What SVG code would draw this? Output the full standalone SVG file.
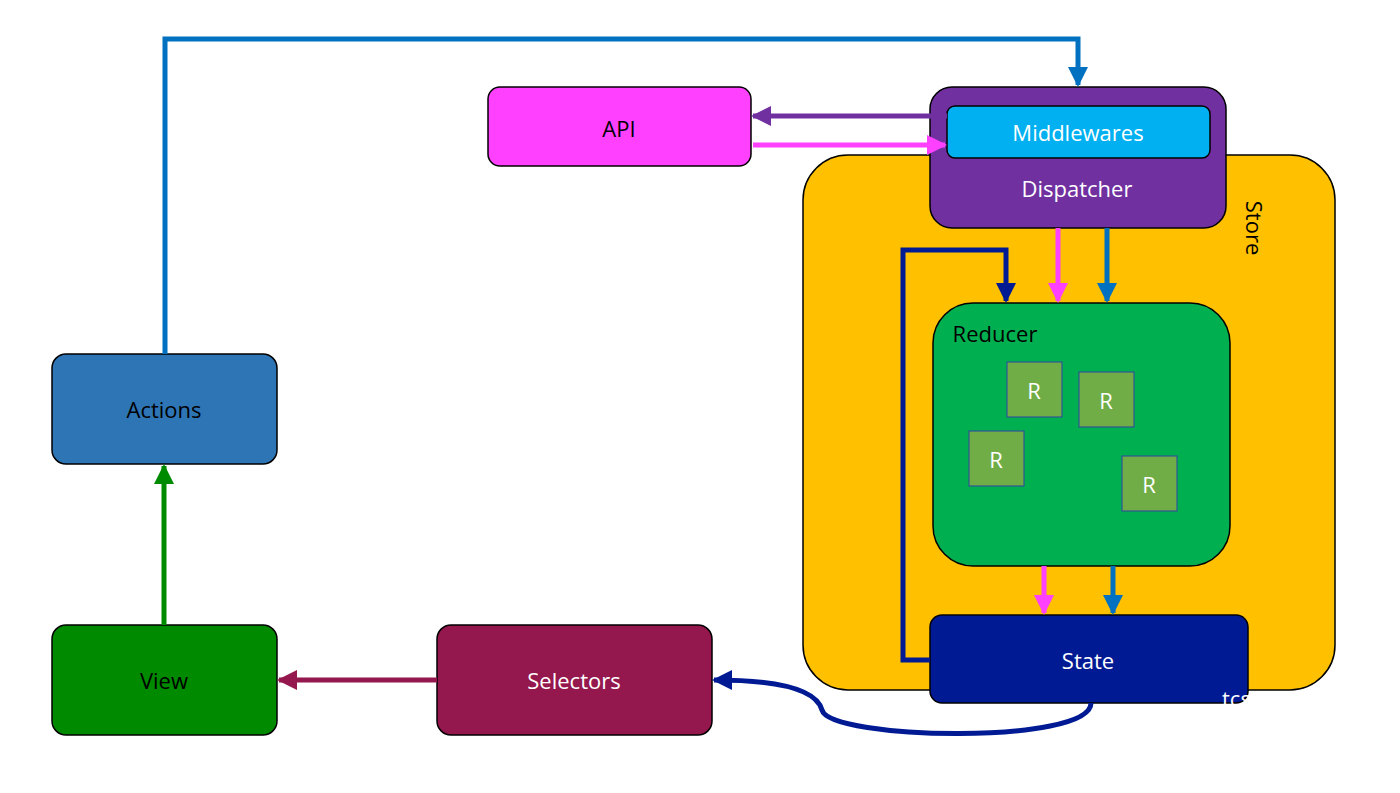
<svg xmlns="http://www.w3.org/2000/svg" width="1400" height="793" viewBox="0 0 1400 793">
<style>
text{font-family:"Open Sans","Liberation Sans",sans-serif;font-size:22px;text-anchor:middle;dominant-baseline:central}
.w{fill:#fff}.k{fill:#000}
.b{stroke:#000;stroke-width:1.5}
.r{fill:#70ad47;stroke:#2f5597;stroke-width:1.2}
.c{fill:none;stroke-width:5}
</style>
<defs>
<marker id="aBlue" viewBox="0 0 10 10" refX="9" refY="5" markerWidth="4" markerHeight="4" orient="auto"><path d="M0,0L10,5L0,10z" fill="#0070c0"/></marker>
<marker id="aPink" viewBox="0 0 10 10" refX="9" refY="5" markerWidth="4" markerHeight="4" orient="auto"><path d="M0,0L10,5L0,10z" fill="#ff40ff"/></marker>
<marker id="aPurp" viewBox="0 0 10 10" refX="9" refY="5" markerWidth="4" markerHeight="4" orient="auto"><path d="M0,0L10,5L0,10z" fill="#7030a0"/></marker>
<marker id="aNavy" viewBox="0 0 10 10" refX="9" refY="5" markerWidth="4" markerHeight="4" orient="auto"><path d="M0,0L10,5L0,10z" fill="#001a94"/></marker>
<marker id="aGreen" viewBox="0 0 10 10" refX="9" refY="5" markerWidth="4" markerHeight="4" orient="auto"><path d="M0,0L10,5L0,10z" fill="#008a00"/></marker>
<marker id="aMaroon" viewBox="0 0 10 10" refX="9" refY="5" markerWidth="4" markerHeight="4" orient="auto"><path d="M0,0L10,5L0,10z" fill="#94174d"/></marker>
</defs>
<rect width="1400" height="793" fill="#fff"/>
<g id="store"><rect x="803" y="155" width="532" height="535" rx="45" fill="#ffc000" class="b" stroke-width="1"/>
<text x="1255" y="228" font-size="28" transform="rotate(90 1255 228)" class="k">Store</text></g>
<g id="dispatcher"><rect x="930" y="87" width="296" height="141" rx="22" fill="#7030a0" class="b"/><text x="1077" y="188" class="w">Dispatcher</text></g>
<g id="middlewares"><rect x="947" y="106" width="263" height="52" rx="8" fill="#00b0f0" class="b"/><text x="1078" y="132" class="w">Middlewares</text></g>
<g id="api"><rect x="488" y="87" width="263" height="79" rx="12" fill="#ff40ff" class="b"/><text x="619" y="128" class="k">API</text></g>
<g id="reducer"><rect x="933" y="303" width="297" height="263" rx="40" fill="#00b050" class="b"/><text x="995" y="333" class="k">Reducer</text>
<rect class="r" x="1007" y="362" width="55" height="55"/><text x="1034" y="390" class="w">R</text>
<rect class="r" x="1079" y="372" width="55" height="55"/><text x="1106" y="400" class="w">R</text>
<rect class="r" x="969" y="431" width="55" height="55"/><text x="996" y="459" class="w">R</text>
<rect class="r" x="1122" y="456" width="55" height="55"/><text x="1149" y="484" class="w">R</text></g>
<g id="state"><rect x="930" y="615" width="318" height="88" rx="12" fill="#001a94" class="b"/><text x="1088" y="660" class="w">State</text><text x="1222" y="698" class="w" text-anchor="start" style="text-anchor:start">tcs</text></g>
<g id="actions"><rect x="52" y="354" width="225" height="110" rx="14" fill="#2e75b6" class="b"/><text x="164" y="409" class="k">Actions</text></g>
<g id="view"><rect x="52" y="625" width="225" height="110" rx="14" fill="#008a00" class="b"/><text x="164" y="680" class="k">View</text></g>
<g id="selectors"><rect x="437" y="625" width="275" height="110" rx="14" fill="#94174d" class="b"/><text x="574" y="680" class="w">Selectors</text></g>
<g id="connectors">
<path class="c" stroke="#0070c0" d="M165,354V39H1078V85" marker-end="url(#aBlue)"/>
<path class="c" stroke="#7030a0" d="M947,116H753" marker-end="url(#aPurp)"/>
<path class="c" stroke="#ff40ff" d="M753,145H945" marker-end="url(#aPink)"/>
<path class="c" stroke="#ff40ff" d="M1058,228V301" marker-end="url(#aPink)"/>
<path class="c" stroke="#0070c0" d="M1107,228V301" marker-end="url(#aBlue)"/>
<path class="c" stroke="#001a94" d="M930,660H903V250H1006V301" marker-end="url(#aNavy)"/>
<path class="c" stroke="#ff40ff" d="M1044,566V613" marker-end="url(#aPink)"/>
<path class="c" stroke="#0070c0" d="M1113,566V613" marker-end="url(#aBlue)"/>
<path class="c" stroke="#001a94" d="M1091,703C1091,745 830,740 822,710C815,685 760,680 714,680" marker-end="url(#aNavy)"/>
<path class="c" stroke="#008a00" d="M164,625V466" marker-end="url(#aGreen)"/>
<path class="c" stroke="#94174d" stroke-width="4" d="M437,680H279" marker-end="url(#aMaroon)"/>
</g>
</svg>
